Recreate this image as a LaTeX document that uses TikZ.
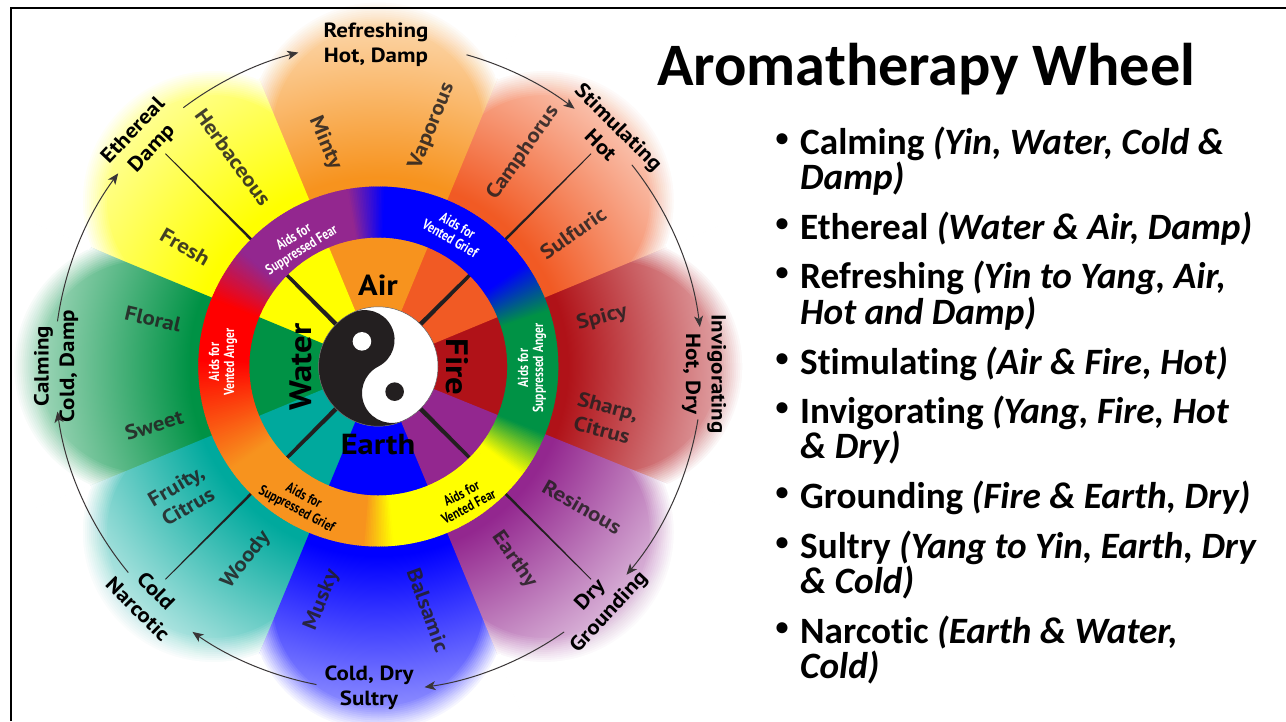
\documentclass[tikz,border=0pt]{standalone}
\usepackage{fontspec}
\setmainfont{Carlito}[Ligatures=NoCommon]
\newfontfamily\wheelfont{PT Sans}[FakeStretch=1.12]
\newfontfamily\ringfont{PT Sans}[FakeStretch=0.8]
\usetikzlibrary{arrows.meta}
\definecolor{cFire}{HTML}{B01218}
\definecolor{cStim}{HTML}{F15A24}
\definecolor{cAir}{HTML}{F7931E}
\definecolor{cYel}{HTML}{FFFF00}
\definecolor{cWat}{HTML}{009245}
\definecolor{cTeal}{HTML}{00A99D}
\definecolor{cBlue}{HTML}{0000FF}
\definecolor{cPur}{HTML}{93278F}
\definecolor{cRed}{HTML}{FF0000}
\definecolor{ink}{HTML}{231F20}
\colorlet{petalc}{cFire}
\colorlet{petalm}{white}
\pgfdeclareradialshading[petalc,petalm]{petalfade}{\pgfpoint{0bp}{0bp}}{color(0bp)=(petalc); color(12.8bp)=(petalc); color(25bp)=(petalm); color(50bp)=(petalm)}
\tikzset{
  x=1pt,y=1pt,
  petaltext/.style={inner sep=0pt,text=ink,text opacity=.85,align=center,font=\wheelfont\bfseries\fontsize{20.5}{24}\selectfont},
  outertext/.style={inner sep=0pt,text=black,align=center,font=\wheelfont\bfseries\fontsize{20.5}{25.5}\selectfont},
  elemtext/.style={inner sep=0pt,text=black,font=\wheelfont\bfseries\fontsize{29}{29}\selectfont},
  elemside/.style={inner sep=0pt,text=black,font=\wheelfont\bfseries\fontsize{31}{31}\selectfont},
  ringtext/.style={inner sep=0pt,align=center,font=\ringfont\bfseries\fontsize{14.5}{15}\selectfont},
  titletext/.style={inner sep=0pt,anchor=base west,text=black,font=\bfseries\fontsize{60.3}{60}\selectfont},
  listline/.style={inner sep=0pt,anchor=base west,text=black,font=\bfseries\fontsize{37.2}{37}\selectfont},
  listdot/.style={inner sep=0pt,anchor=base,text=black,font=\bfseries\fontsize{26}{26}\selectfont},
  cyclearrow/.style={draw=ink!90!white,line width=1pt,-{Stealth[length=11pt,width=9pt,inset=3pt]}},
}
\begin{document}
\begin{tikzpicture}
\useasboundingbox (0,0) rectangle (1286,-721);
\fill[white] (0,0) rectangle (1286,-721);
\coordinate (c) at (378.3,-366.5);
\begin{scope}[shift={(c)}]
% petals: each wedge fades outward and ends in a soft round lobe
\foreach \ang/\col/\midc in {0/cFire/cFire!30!white,45/cStim/cStim!25!white,90/cAir/cAir!28!white,135/cYel/cYel!32!white,180/cWat/cWat!26!white,225/cTeal/cTeal!18!white,270/cBlue/cBlue!35!white,315/cPur/cPur!22!white}{
  \begin{scope}
    \colorlet{petalc}{\col}\colorlet{petalm}{\midc}
    \pgfmathsetmacro\aL{\ang-22.5}\pgfmathsetmacro\aR{\ang+22.9}
    \clip (0,0) -- (\aL:520) -- (\aR:520) -- cycle;
    \shade[shading=petalfade] (0,0) circle [radius=370];
    \begin{scope}[rotate=\ang]
      \foreach \k in {1,...,13}{
        \pgfmathsetmacro\rr{104+2*\k}
        \pgfmathsetmacro\op{1/(14-\k)}
        \fill[white,opacity=\op] (234,-220) -- (520,-220) -- (520,220) -- (234,220) -- (234,\rr) arc [start angle=90,end angle=-90,radius=\rr] -- cycle;
      }
    \end{scope}
  \end{scope}
}
% clean the seams beyond the lobes
\foreach \ang in {22.7,67.7,...,360}{
  \draw[white,line width=4pt] (\ang:312) -- (\ang:400);
}
% spokes
\foreach \ang in {45,135,225,315}{
  \begin{scope}[rotate=\ang]
    \fill[ink] (50,-2.3) -- (301,-.4) -- (301,.4) -- (50,2.3) -- cycle;
  \end{scope}
}
% ring
\foreach \aa/\bb/\ca/\cb in {-95/-85/cAir/cYel,-85/-37/cYel/cYel,-37/-22/cYel/cWat,-22/18/cWat/cWat,18/35/cWat/cBlue,35/88/cBlue/cBlue,88/100/cBlue/cPur,100/140/cPur/cPur,140/158/cPur/cRed,158/178/cRed/cRed,178/215/cRed/cAir,215/265/cAir/cAir}{
  \pgfmathtruncatemacro\nn{ceil((\bb-\aa)/.6)}
  \foreach \i in {1,...,\nn}{
    \pgfmathsetmacro\sa{\aa+(\i-1)*(\bb-\aa)/\nn}
    \pgfmathsetmacro\sb{\aa+\i*(\bb-\aa)/\nn+.3}
    \pgfmathsetmacro\pp{100*(1-(\i-.5)/\nn)}
    \fill[\ca!\pp!\cb] (\sa:180) arc [start angle=\sa,end angle=\sb,radius=180] -- (\sb:129) arc [start angle=\sb,end angle=\sa,radius=129] -- cycle;
  }
}
% yin yang
\fill[white] (0,0) circle [radius=59.7];
\fill[ink] (117:59.7) arc [start angle=117,end angle=297,radius=59.7]
  arc [start angle=297,end angle=117,radius=29.85]
  arc [start angle=-63,end angle=117,radius=29.85] -- cycle;
\fill[white] (123:30) circle [radius=9.3];
\fill[ink] (-57:30) circle [radius=9.3];
\draw[ink!70!white,line width=.5pt] (0,0) circle [radius=59.7];
\end{scope}
% frame
\draw[black,line width=2.6pt] (11,-721) -- (11,-8) -- (1286,-8);
% element labels
\node[elemtext] (air) at (378,-285) {Air};
\node[elemtext] (earth) at (378,-445) {Earth};
\node[elemside,rotate=90] (water) at (301,-367) {Water};
\node[elemside,rotate=-90] (fire) at (457,-367) {Fire};
% ring labels
\node[ringtext,text=white,rotate=32] (r1) at (298,-244) {Aids for\\Suppressed Fear};
\node[ringtext,text=white,rotate=-30] (r2) at (454,-232) {Aids for\\Vented Grief};
\node[ringtext,text=white,rotate=90] (r3) at (532,-368) {Aids for\\Suppressed Anger};
\node[ringtext,text=white,rotate=90] (r4) at (223,-362) {Aids for\\Vented Anger};
\node[ringtext,text=black,rotate=-28] (r5) at (300,-503) {Aids for\\Suppressed Grief};
\node[ringtext,text=black,rotate=28] (r6) at (465,-500) {Aids for\\Vented Fear};
% petal labels
\node[petaltext,rotate=-67] (p1) at (325,-143) {Minty};
\node[petaltext,rotate=68] (p2) at (432,-126) {Vaporous};
\node[petaltext,rotate=-54] (p3) at (233,-157) {Herbaceous};
\node[petaltext,rotate=-30] (p4) at (185,-247) {Fresh};
\node[petaltext,rotate=-13] (p5) at (153,-319) {Floral};
\node[petaltext,rotate=17] (p6) at (154,-425) {Sweet};
\node[petaltext,rotate=30] (p7) at (182,-496) {Fruity,\\Citrus};
\node[petaltext,rotate=52] (p8) at (246,-560) {Woody};
\node[petaltext,rotate=68] (p9) at (322,-600) {Musky};
\node[petaltext,rotate=-70] (p10) at (428,-610) {Balsamic};
\node[petaltext,rotate=-55] (p11) at (514,-560) {Earthy};
\node[petaltext,rotate=-30] (p12) at (582,-507) {Resinous};
\node[petaltext,rotate=-15] (p13) at (605,-418) {Sharp,\\Citrus};
\node[petaltext,rotate=15] (p14) at (602,-318) {Spicy};
\node[petaltext,rotate=35] (p15) at (573,-233) {Sulfuric};
\node[petaltext,rotate=55] (p16) at (523,-153) {Camphorus};
% outer labels
\node[outertext] (refreshing) at (376,-45) {Refreshing\\Hot, Damp};
\node[outertext,rotate=46.5] (ethereal) at (143,-140) {Ethereal\\Damp};
\node[outertext,rotate=-45] (stimulating) at (610,-136) {Stimulating\\Hot};
\node[outertext,rotate=-90] (invigorating) at (704,-374) {Invigorating\\Hot, Dry};
\node[outertext,rotate=47] (grounding) at (600,-604) {Dry\\Grounding};
\node[outertext] (sultry) at (369,-688) {Cold, Dry\\Sultry};
\node[outertext,rotate=-45] (narcotic) at (147,-600) {Cold\\Narcotic};
\node[outertext,rotate=90] (calming) at (56,-366) {Calming\\Cold, Damp};
% cycle arrows
\begin{scope}[shift={(c)}]
\foreach \sa/\ea in {172/143.4,127/104.3,74.2/52.7,38.5/7,-9.4/-40,-55/-81.8,-101/-125,-140.5/-172}{
  \draw[cyclearrow] (\sa:324) arc [start angle=\sa,end angle=\ea,radius=324];
}
\end{scope}
% title
\node[titletext] (title) at (657,-85) {Aromatherapy Wheel};
% list
\foreach \yy/\txt in {154/{Calming \textit{(Yin, Water, Cold \&}},239/{Ethereal \textit{(Water \& Air, Damp)}},288/{Refreshing \textit{(Yin to Yang, Air,}},374/{Stimulating \textit{(Air \& Fire, Hot)}},423/{Invigorating \textit{(Yang, Fire, Hot}},508/{Grounding \textit{(Fire \& Earth, Dry)}},558/{Sultry \textit{(Yang to Yin, Earth, Dry}},643/{Narcotic \textit{(Earth \& Water,}}}{
  \node[listdot] at (782,-\yy+8) {•};
  \node[listline] at (800,-\yy) {\txt};
}
\foreach \yy/\txt in {189/{Damp)},324/{Hot and Damp)},458/{\& Dry)},593/{\& Cold)},678/{Cold)}}{
  \node[listline] at (800,-\yy) {\textit{\txt}};
}
\end{tikzpicture}
\end{document}
